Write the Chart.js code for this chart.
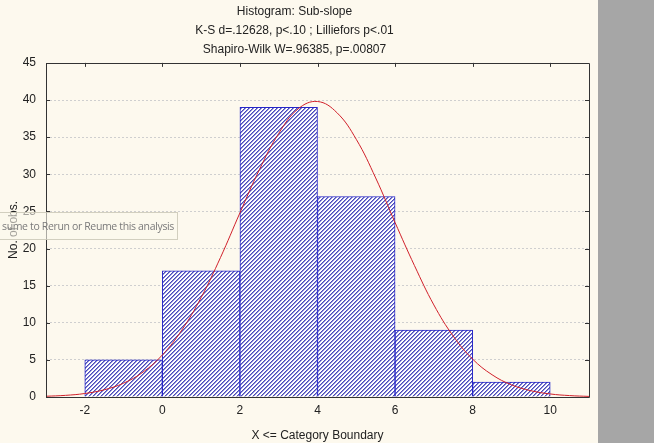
<!DOCTYPE html>
<html>
<head>
<meta charset="utf-8">
<script src="https://cdn.jsdelivr.net/npm/chart.js@4/dist/chart.umd.min.js"></script>
<style>
  html,body{margin:0;padding:0;background:#FDF9EE;}
  #wrap{position:relative;width:654px;height:443px;overflow:hidden;background:#FDF9EE;}
  #gray{position:absolute;left:598px;top:0;width:56px;height:443px;background:#A6A6A6;}
  #c{position:absolute;left:0;top:0;}
  #tip{position:absolute;left:-1px;top:212px;width:179px;height:28px;background:rgba(252,249,236,0.6);
       border:1px solid rgba(200,196,180,0.8);box-sizing:border-box;overflow:hidden;
       font-family:"Open Sans",sans-serif;font-size:10.5px;letter-spacing:-0.35px;color:#7a7a7a;line-height:26px;white-space:nowrap;}
  #tip span{position:relative;left:2px;}
</style>
</head>
<body>
<div id="wrap">
  <canvas id="c" width="598" height="443"></canvas>
  <div id="gray"></div>
  <div id="tip"><span>sume to Rerun or Reume this analysis</span></div>
</div>
<script>
// ---- data ----
const titleLines = ["Histogram: Sub-slope", "K-S d=.12628, p<.10 ; Lilliefors p<.01", "Shapiro-Wilk W=.96385, p=.00807"];
const binCenters = [-1, 1, 3, 5, 7, 9];          // bins: -2..0, 0..2, 2..4, 4..6, 6..8, 8..10
const binCounts  = [5, 17, 39, 27, 9, 2];
const curveX = [-3,-2.5,-2,-1.5,-1,-0.5,0,0.5,1,1.5,2,2.5,3,3.5,4,4.5,5,5.5,6,6.5,7,7.5,8,8.5,9,9.5,10,10.5,11];
const curveY = [0.1,0.22,0.47,0.97,1.86,3.35,5.66,9.0,13.4,18.8,24.8,30.6,35.5,38.8,39.8,38.3,34.7,29.5,23.5,17.7,12.4,8.2,5.1,3.0,1.64,0.85,0.41,0.19,0.08];
const xTicks = [-2, 0, 2, 4, 6, 8, 10];
const yTicks = [0, 5, 10, 15, 20, 25, 30, 35, 40, 45];
const xTitle = "X <= Category Boundary";
const yTitle = "No. of obs.";

// hatch pattern (pixel diagonal stripes)
const pc = document.createElement('canvas');
pc.width = 4; pc.height = 4;
const px = pc.getContext('2d');
for (let i = 0; i < 4; i++) {
  for (let j = 0; j < 4; j++) {
    const k = (i + j) % 4;
    px.fillStyle = k === 0 ? '#4a4abb' : (k === 1 ? '#8e8ed6' : '#ffffff');
    px.fillRect(i, j, 1, 1);
  }
}
const ctx = document.getElementById('c').getContext('2d');
const hatch = ctx.createPattern(pc, 'repeat');

const frame = {
  id: 'frame',
  afterDraw(chart) {
    const {ctx, chartArea: a, scales: {x, y}} = chart;
    ctx.save();
    ctx.strokeStyle = '#333333';
    ctx.lineWidth = 1;
    ctx.beginPath();
    ctx.rect(Math.round(a.left)+0.5, Math.round(a.top)+0.5, Math.round(a.right-a.left), Math.round(a.bottom-a.top));
    ctx.stroke();
    ctx.beginPath();
    yTicks.forEach(v => {
      const py = Math.round(y.getPixelForValue(v)) + 0.5;
      ctx.moveTo(a.left, py); ctx.lineTo(a.left + 4, py);
      ctx.moveTo(a.right, py); ctx.lineTo(a.right - 4, py);
    });
    xTicks.forEach(v => {
      const pxx = Math.round(x.getPixelForValue(v)) + 0.5;
      ctx.moveTo(pxx, a.top); ctx.lineTo(pxx, a.top + 4);
    });
    ctx.stroke();
    ctx.restore();
  }
};

new Chart(ctx, {
  type: 'bar',
  data: {
    datasets: [
      {
        type: 'line',
        data: curveX.map((v, i) => ({x: v, y: curveY[i]})),
        borderColor: '#d0202a',
        borderWidth: 1,
        pointRadius: 0,
        tension: 0.4,
        fill: false,
        order: 0
      },
      {
        type: 'bar',
        data: binCenters.map((v, i) => ({x: v, y: binCounts[i]})),
        backgroundColor: hatch,
        borderColor: '#2626c8',
        borderWidth: 1,
        barPercentage: 1,
        categoryPercentage: 1,
        order: 1
      }
    ]
  },
  options: {
    responsive: false,
    animation: false,
    devicePixelRatio: 1,
    layout: {padding: {left: 0, right: 9, top: 0, bottom: 0}},
    plugins: {
      legend: {display: false},
      tooltip: {enabled: false},
      title: {
        display: true,
        text: titleLines,
        color: '#222222',
        font: {family: '"Liberation Sans", Arial, sans-serif', size: 12, weight: 'normal', lineHeight: 1.58},
        padding: {top: 2, bottom: 4}
      }
    },
    scales: {
      x: {
        type: 'linear',
        offset: false,
        min: -3, max: 11,
        afterBuildTicks: s => { s.ticks = xTicks.map(v => ({value: v})); },
        afterFit: s => { s.height = 46; },
        grid: {display: false, drawTicks: false, offset: false},
        border: {display: false},
        ticks: {color: '#222', padding: 6, font: {family: '"Liberation Sans", Arial, sans-serif', size: 12}},
        title: {display: true, text: xTitle, color: '#222', padding: {top: 3, bottom: 0},
                font: {family: '"Liberation Sans", Arial, sans-serif', size: 12}}
      },
      y: {
        type: 'linear',
        min: 0, max: 45,
        afterBuildTicks: s => { s.ticks = yTicks.map(v => ({value: v})); },
        afterFit: s => { s.width = 46; },
        grid: {
          drawTicks: false,
          color: c => (c.tick && (c.tick.value === 0 || c.tick.value === 45)) ? 'rgba(0,0,0,0)' : '#cfcfcf',
          lineWidth: 1
        },
        border: {display: false, dash: [2, 2]},
        ticks: {color: '#222', padding: 10, font: {family: '"Liberation Sans", Arial, sans-serif', size: 12}},
        title: {display: true, text: yTitle, color: '#222', padding: {top: 6, bottom: 0},
                font: {family: '"Liberation Sans", Arial, sans-serif', size: 12}}
      }
    }
  },
  plugins: [frame]
});
</script>
</body>
</html>
